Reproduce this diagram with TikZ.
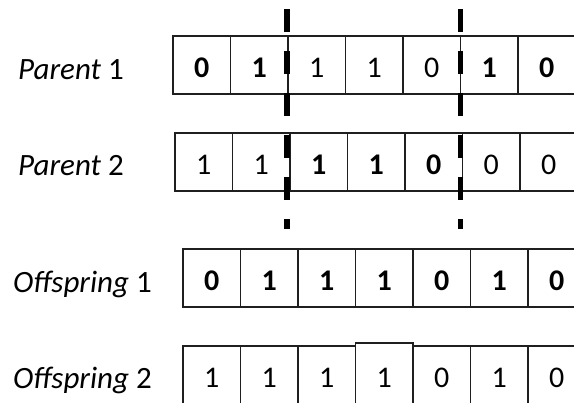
\documentclass[tikz,border=0pt]{standalone}
\usepackage{fontspec}
\setmainfont{Carlito}
\begin{document}
\begin{tikzpicture}[x=1pt,y=-1pt,
  cell/.style={draw=black!88, line width=1.6pt, minimum width=57.5pt, minimum height=58pt,
    anchor=north west, inner sep=0pt, outer sep=0pt, text height=26pt, text depth=0pt,
    font=\fontsize{30}{36}\selectfont},
  lbl/.style={anchor=base west, inner sep=0pt, font=\fontsize{31}{37}\selectfont},
  cutline/.style={line width=5.5pt, dash pattern=on 23pt off 19pt}]
\clip (0,0) rectangle (574,403);
\fill[white] (0,0) rectangle (574,403);
% labels
\node[lbl] (lp1) at (18,80) {\textit{Parent} 1};
\node[lbl] (lp2) at (18,176) {\textit{Parent} 2};
\node[lbl] (lo1) at (13,293) {\textit{Offspring} 1};
\node[lbl] (lo2) at (13,389) {\textit{Offspring} 2};
% Parent 1
\foreach \v [count=\i] in {\textbf{0},\textbf{1},1,1,0,\textbf{1},\textbf{0}}
  \node[cell] (p1-\i) at ({173+(\i-1)*57.5},36) {\v};
% Parent 2
\foreach \v [count=\i] in {1,1,\textbf{1},\textbf{1},\textbf{0},0,0}
  \node[cell] (p2-\i) at ({175+(\i-1)*57.5},133) {\v};
% Offspring 1
\foreach \v [count=\i] in {\textbf{0},\textbf{1},\textbf{1},\textbf{1},\textbf{0},\textbf{1},\textbf{0}}
  \node[cell] (o1-\i) at ({183+(\i-1)*57.5},249) {\v};
% Offspring 2
\foreach \v [count=\i] in {1,1,1,,0,1,0}
  \node[cell] (o2-\i) at ({183+(\i-1)*57.5},346) {\v};
\node[cell, fill=white, minimum height=61pt, text height=29pt] (o2-4r) at (355.5,343) {1};
% cut points
\coordinate (cutA1) at (287,9);
\coordinate (cutA2) at (287,229);
\coordinate (cutB1) at (460.5,9);
\coordinate (cutB2) at (460.5,229);
\draw[cutline] (cutA1) -- (cutA2);
\draw[cutline] (cutB1) -- (cutB2);
\end{tikzpicture}
\end{document}
